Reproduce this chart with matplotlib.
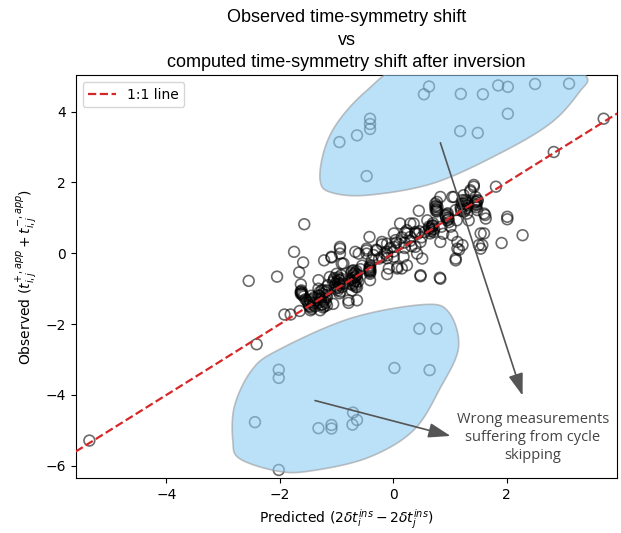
import matplotlib
matplotlib.use("Agg")
import matplotlib.pyplot as plt
from matplotlib.patches import Polygon
import numpy as np

# predicted vs observed time-symmetry shift (well behaved pairs)
pred = [-5.36, -2.41, -2.55, -2.05, -1.75, -1.59, -1.66, -1.63, -1.57, -1.63, -1.63, -1.92, -1.81, -1.65,
        -1.62, -1.61, -1.60, -1.55, -1.50, -1.47, -1.46, -1.44, -1.48, -1.42, -1.40, -1.45,
        -1.32, -1.32, -1.32, -1.29, -1.29, -1.30, -1.27, -1.25, -1.24, -1.22, -1.20, -1.17, -1.17, -1.17,
        -1.15, -1.22, -1.09, -1.12, -1.06, -1.06,
        -1.04, -1.02, -1.00, -1.00, -0.98, -0.96, -0.95, -0.94, -0.94, -0.92, -0.91, -0.88, -0.88, -0.94,
        -0.94, -0.94, -1.09,
        -0.79, -0.79, -0.76, -0.73, -0.73, -0.72, -0.70, -0.70, -0.69, -0.67, -0.67, -0.66, -0.64, -0.64,
        -0.64, -0.62, -0.67, -0.61, -0.58,
        -0.47, -0.47, -0.47, -0.42, -0.41, -0.41, -0.41, -0.41, -0.42, -0.42, -0.41, -0.38, -0.35, -0.30,
        -0.29, -0.25, -0.20, -0.20, -0.15, -0.11, -0.11, -0.11, -0.11, -0.11, -0.08, -0.05,
        0.01, 0.04, 0.01, 0.01, 0.07, 0.07, 0.12, 0.15, 0.18, 0.24, 0.24, 0.24, 0.21, 0.30, 0.30, 0.36,
        0.39, 0.39, 0.39, 0.42, 0.45, 0.43, 0.46, 0.48, 0.48, 0.48, 0.51, 0.10, 0.20, 0.32, 0.15,
        0.60, 0.63, 0.63, 0.65, 0.66, 0.68, 0.69, 0.70, 0.71, 0.74, 0.74, 0.75, 0.77, 0.77, 0.78, 0.83,
        0.83, 0.82, 0.83, 0.92, 0.93, 0.95, 0.96, 0.98, 0.97, 0.85, 0.88,
        1.01, 1.04, 1.04, 1.07, 1.10, 1.12, 1.13, 1.13, 1.16, 1.10, 1.10, 1.19, 1.20, 1.22, 1.22, 1.24,
        1.25, 1.27, 1.28, 1.30, 1.31, 1.33, 1.36, 1.36, 1.42, 1.42, 1.43, 1.45, 1.45, 1.46, 1.48, 1.49,
        1.51, 1.54, 1.54, 1.57, 1.60, 1.62, 1.63, 1.60, 1.81, 1.91, 2.01, 2.01, 2.28, 2.83, 3.71,
        -1.63, -1.62, -1.58, -1.52, -1.49, -1.46, -1.45, -1.43, -1.40, -1.38,
        -1.30, -1.28, -1.27, -1.26, -1.25, -1.23, -1.22, -1.20, -1.19, -1.18,
        -1.05, -1.03, -1.01, -0.99, -0.97, -0.96, -0.95, -0.93, -0.92, -0.90,
        -0.74, -0.73, -0.72, -0.71, -0.70, -0.68, -0.67, -0.66, -0.65, -0.64,
        -0.41, -0.41, -0.40, -0.42,
        0.66, 0.68, 0.70, 0.72, 0.75, 0.76, 0.77, 0.93, 0.95, 0.97,
        1.19, 1.21, 1.23, 1.25, 1.27, 1.29, 1.30, 1.44, 1.46, 1.47, 1.48,
        -0.20, 0.00, 0.20, 0.30, 0.50, -0.55, 0.55, 0.05]
obs = [-5.29, -2.57, -0.78, -0.66, 0.04, -0.26, -0.54, -0.88, 0.82, -1.10, -1.15, -1.73, -1.73, -1.63,
       -1.05, -1.12, -1.18, -1.30, -1.40, -1.33, -1.61, -1.57, -1.50, -1.45, -1.25, -1.20,
       -0.76, -1.00, -1.19, -1.38, -1.61, -1.10, -1.25, -1.45, -1.53, -1.05, -1.30, -1.05, -1.24, -1.47,
       -0.90, -0.20, -0.12, -0.67, -0.81, -1.43,
       -0.70, -0.85, -0.58, -0.95, -1.05, -0.75, -1.13, -0.76, -0.90, -0.62, -0.29, -0.86, -0.29, 0.13,
       -0.01, 0.18, -0.10,
       -1.33, -1.40, -0.86, -1.05, -0.50, -0.70, -0.48, -0.58, -0.80, -0.55, -0.90, -0.65, -0.72, -1.33,
       -0.96, -0.80, 0.04, -0.01, -0.45,
       -0.01, 0.13, 0.08, 0.46, -0.34, -0.40, -0.54, -0.58, -0.48, -0.51, -0.76, -0.20, -0.05, 0.10,
       0.08, -0.15, 0.32, 0.25, 0.00, -0.06, 0.27, -0.14, 0.04, -0.59, -0.43, 0.15,
       0.56, 0.37, 0.18, -0.10, -0.39, -0.43, 0.84, -0.43, -0.10, 0.65, 0.56, -0.34, 0.59, 0.46, 0.84, 0.84,
       0.60, 0.56, 0.18, -0.01, 1.20, 0.55, 0.62, 0.32, -0.62, -0.65, -0.15, 0.25, 0.30, 0.20, 0.45,
       0.93, 0.70, 0.75, 0.56, 0.62, 0.75, 0.79, 0.85, 0.60, 1.31, 1.40, 1.20, 1.45, 1.23, 1.30, 1.59,
       0.32, -0.69, -0.72, 1.08, 1.00, 0.93, 1.13, 0.88, 0.95, 0.75, 0.55,
       0.75, 0.51, 1.59, 1.59, 1.22, 0.93, 0.13, 0.32, 0.10, -0.15, -0.20, 1.31, 1.20, 1.50, 0.23, 1.64,
       1.40, 1.45, 1.25, 1.12, 1.35, 0.93, 1.78, 1.74, 1.93, 1.88, 1.40, 1.59, 1.45, 1.30, 1.22, 1.50,
       0.23, 0.13, 0.56, 0.23, 1.12, 1.08, 0.98, 0.56, 1.88, 0.29, 1.03, 0.96, 0.51, 2.86, 3.80,
       -1.08, -1.14, -1.22, -1.35, -1.45, -1.38, -1.52, -1.30, -1.40, -1.50,
       -1.20, -1.30, -1.45, -1.05, -1.15, -1.35, -1.50, -1.10, -1.40, -1.18,
       -0.75, -0.92, -1.00, -0.80, -0.68, -0.98, -0.85, -1.08, -0.72, -0.95,
       -0.55, -0.75, -0.90, -0.62, -0.85, -0.68, -0.78, -0.95, -0.50, -0.60,
       -0.37, -0.45, -0.50, -0.42,
       0.70, 0.66, 0.78, 0.68, 1.25, 1.35, 1.18, 1.05, 1.10, 1.00,
       1.25, 1.40, 1.32, 1.18, 1.50, 1.28, 1.42, 1.35, 1.45, 1.38, 1.48,
       -0.10, 0.05, 0.15, 0.35, 0.45, -0.35, 0.60, 0.30]

# cycle-skipped measurements
pred_skip = [0.63, 0.54, 1.19, 1.58, 1.85, 2.02, 2.50, 3.10, 2.02, 1.18, 1.49, -0.41, -0.41, -0.41, -0.64,
             -0.95, -0.47,
             -2.02, -2.02, -2.44, -2.02, -1.32, 0.46, 0.76, 0.02, 0.64, -0.71, -0.64, -0.72, -1.09, -1.09]
obs_skip = [4.71, 4.49, 4.50, 4.49, 4.74, 4.70, 4.78, 4.79, 3.94, 3.45, 3.40, 3.80, 3.65, 3.51, 3.33,
            3.14, 2.18,
            -3.29, -3.52, -4.77, -6.12, -4.94, -2.13, -2.13, -3.24, -3.30, -4.50, -4.71, -4.84, -4.85, -4.95]

# outlines of the two highlighted regions
upper_region = [(-1.29, 2.05), (-1.22, 2.90), (-0.98, 3.70), (-0.50, 4.55), (0.20, 5.35), (1.50, 5.75),
                (2.80, 5.55), (3.40, 5.00), (3.28, 4.55), (2.78, 3.68), (1.89, 2.83), (0.71, 1.98),
                (-0.46, 1.64), (-1.10, 1.72)]
lower_region = [(-2.83, -5.30), (-2.71, -5.80), (-2.05, -6.15), (-1.47, -6.15), (-0.46, -5.78),
                (0.35, -5.01), (0.83, -3.80), (1.15, -2.66), (0.98, -1.67), (0.53, -1.45),
                (-0.76, -1.84), (-2.05, -2.75), (-2.50, -3.31), (-2.80, -4.31)]


def smooth_closed(pts, n=30):
    pts = np.asarray(pts, dtype=float)
    P = np.vstack([pts[-1], pts, pts[0], pts[1]])
    t = np.linspace(0, 1, n, endpoint=False)[:, None]
    out = []
    for i in range(1, len(pts) + 1):
        p0, p1, p2, p3 = P[i - 1], P[i], P[i + 1], P[i + 2]
        out.append(0.5 * (2 * p1 + (-p0 + p2) * t + (2 * p0 - 5 * p1 + 4 * p2 - p3) * t ** 2
                          + (-p0 + 3 * p1 - 3 * p2 + p3) * t ** 3))
    return np.vstack(out)


fig = plt.figure(figsize=(6.21, 5.33), dpi=100)
ax = fig.add_axes([0.122, 0.103, 0.872, 0.756])

ax.scatter(pred, obs, s=60, facecolors="none", edgecolors="k", linewidths=1.2, alpha=0.58, zorder=2)
ax.scatter(pred_skip, obs_skip, s=60, facecolors="none", edgecolors="k", linewidths=1.2, alpha=0.58, zorder=2)

xl = np.array([-5.6, 3.95])
ax.plot(xl, xl, "--", color="#d62728", lw=1.6, label="1:1 line", zorder=3)

for reg in [upper_region, lower_region]:
    ax.add_patch(Polygon(smooth_closed(reg), closed=True, facecolor="#8ecdf5", alpha=0.6,
                         edgecolor="#999999", lw=1.2, zorder=4))

ax.set_xlim(-5.6, 3.95)
ax.set_ylim(-6.35, 5.03)

txt = "Wrong measurements\nsuffering from cycle\nskipping"
ax.text(2.46, -5.21, txt, ha="center", va="center", fontsize=10.5, family="Open Sans",
        color="#444444", linespacing=1.25, zorder=6)
ax.annotate("", xy=(2.28, -4.02), xytext=(0.83, 3.12),
            arrowprops=dict(arrowstyle="-|>,head_length=0.9,head_width=0.3", color="#555555",
                            lw=1.2, mutation_scale=15, shrinkA=0, shrinkB=0), zorder=6)
ax.annotate("", xy=(1.01, -5.16), xytext=(-1.38, -4.16),
            arrowprops=dict(arrowstyle="-|>,head_length=0.9,head_width=0.3", color="#555555",
                            lw=1.2, mutation_scale=15, shrinkA=0, shrinkB=0), zorder=6)

ax.set_xticks([-4, -2, 0, 2])
ax.set_yticks([-6, -4, -2, 0, 2, 4])
ax.tick_params(labelsize=10)
ax.set_xlabel(r"Predicted $(2\delta t_i^{ins} - 2\delta t_j^{ins})$", fontsize=10)
ax.set_ylabel(r"Observed $(t_{i,j}^{+,app} + t_{i,j}^{-,app})$", fontsize=10)
ax.set_title("Observed time-symmetry shift\nvs\ncomputed time-symmetry shift after inversion",
             fontsize=13, family="Liberation Sans", linespacing=1.4, pad=6)
ax.legend(loc="upper left", fontsize=10)

plt.savefig("out.png", dpi=100)
